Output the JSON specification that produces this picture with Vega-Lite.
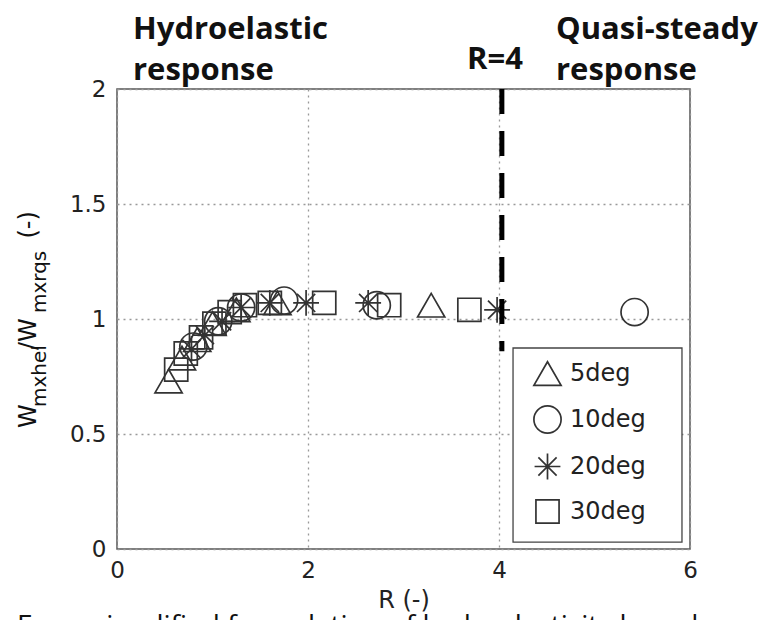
{
  "$schema": "https://vega.github.io/schema/vega-lite/v6.json",
  "width": 573,
  "height": 460,
  "autosize": {"type": "none"},
  "padding": {"left": 117, "top": 89, "right": 80, "bottom": 71},
  "background": "white",
  "config": {
    "view": {"stroke": "#555", "strokeWidth": 1.5},
    "axis": {
      "labelFont": "DejaVu Sans",
      "labelFontSize": 23,
      "labelColor": "#222",
      "titleFont": "DejaVu Sans",
      "titleFontSize": 24,
      "titleFontWeight": "normal",
      "titleColor": "#222",
      "domain": false,
      "ticks": false,
      "grid": true,
      "gridColor": "#999",
      "gridDash": [2, 4],
      "gridWidth": 1.3,
      "labelFlush": false,
      "labelOverlap": false
    },
    "text": {"color": "#111"}
  },
  "layer": [
    {
      "data": {
        "values": [
          {"R": 0.54, "ratio": 0.73, "angle": "5deg"},
          {"R": 0.68, "ratio": 0.83, "angle": "5deg"},
          {"R": 0.84, "ratio": 0.91, "angle": "5deg"},
          {"R": 1.0, "ratio": 0.98, "angle": "5deg"},
          {"R": 1.25, "ratio": 1.04, "angle": "5deg"},
          {"R": 1.68, "ratio": 1.07, "angle": "5deg"},
          {"R": 3.29, "ratio": 1.06, "angle": "5deg"},
          {"R": 0.8, "ratio": 0.88, "angle": "10deg"},
          {"R": 1.06, "ratio": 0.99, "angle": "10deg"},
          {"R": 1.3, "ratio": 1.05, "angle": "10deg"},
          {"R": 1.75, "ratio": 1.08, "angle": "10deg"},
          {"R": 2.72, "ratio": 1.06, "angle": "10deg"},
          {"R": 5.42, "ratio": 1.03, "angle": "10deg"},
          {"R": 0.78, "ratio": 0.87, "angle": "20deg"},
          {"R": 0.92, "ratio": 0.93, "angle": "20deg"},
          {"R": 1.1, "ratio": 0.99, "angle": "20deg"},
          {"R": 1.3, "ratio": 1.05, "angle": "20deg"},
          {"R": 1.6, "ratio": 1.07, "angle": "20deg"},
          {"R": 1.98, "ratio": 1.07, "angle": "20deg"},
          {"R": 2.63, "ratio": 1.07, "angle": "20deg"},
          {"R": 3.98, "ratio": 1.04, "angle": "20deg"},
          {"R": 0.62, "ratio": 0.78, "angle": "30deg"},
          {"R": 0.72, "ratio": 0.85, "angle": "30deg"},
          {"R": 0.88, "ratio": 0.92, "angle": "30deg"},
          {"R": 1.02, "ratio": 0.98, "angle": "30deg"},
          {"R": 1.18, "ratio": 1.03, "angle": "30deg"},
          {"R": 1.34, "ratio": 1.06, "angle": "30deg"},
          {"R": 1.6, "ratio": 1.07, "angle": "30deg"},
          {"R": 2.17, "ratio": 1.07, "angle": "30deg"},
          {"R": 2.85, "ratio": 1.06, "angle": "30deg"},
          {"R": 3.69, "ratio": 1.04, "angle": "30deg"}
        ]
      },
      "mark": {"type": "point", "filled": false, "strokeWidth": 1.7, "color": "#333", "size": 740, "opacity": 1},
      "encoding": {
        "x": {
          "field": "R", "type": "quantitative",
          "scale": {"domain": [0, 6], "nice": false, "zero": false},
          "axis": {"values": [0, 2, 4, 6], "format": "~g", "title": "R (-)", "labelPadding": 10, "titlePadding": 6}
        },
        "y": {
          "field": "ratio", "type": "quantitative",
          "scale": {"domain": [0, 2], "nice": false, "zero": false},
          "axis": {"values": [0, 0.5, 1, 1.5, 2], "format": "~g", "title": null, "labelPadding": 11}
        },
        "shape": {
          "field": "angle", "type": "nominal",
          "scale": {
            "domain": ["5deg", "10deg", "20deg", "30deg"],
            "range": ["triangle-up", "circle", "M-0.95,0L0.95,0M0,-0.95L0,0.95M-0.67,-0.67L0.67,0.67M-0.67,0.67L0.67,-0.67", "M-0.85,-0.85L0.85,-0.85L0.85,0.85L-0.85,0.85Z"]
          },
          "legend": {
            "title": null,
            "orient": "none",
            "legendX": 416,
            "legendY": 270,
            "padding": 0,
            "rowPadding": 13,
            "symbolSize": 740,
            "symbolStrokeWidth": 1.7,
            "symbolStrokeColor": "#333",
            "symbolFillColor": "transparent",
            "symbolOffset": 0,
            "labelOffset": 8,
            "labelFont": "DejaVu Sans",
            "labelFontSize": 24,
            "labelColor": "#222"
          }
        }
      }
    },
    {
      "data": {"values": [{}]},
      "mark": {"type": "rect", "fill": "white", "stroke": "#444", "strokeWidth": 1.3},
      "encoding": {"x": {"datum": 4.147}, "x2": {"datum": 5.916}, "y": {"datum": 0.874}, "y2": {"datum": 0.03}}
    },
    {
      "data": {"values": [{}]},
      "mark": {"type": "rule", "color": "black", "strokeWidth": 5, "strokeDash": [25, 17]},
      "encoding": {"x": {"datum": 4.03}, "y": {"datum": 2}, "y2": {"datum": 0.86}}
    },
    {
      "data": {"values": [{}]},
      "mark": {"type": "text", "text": "Hydroelastic", "font": "Open Sans", "fontWeight": "bold", "fontSize": 31, "align": "left", "baseline": "alphabetic"},
      "encoding": {"x": {"datum": 0.168}, "y": {"datum": 2.218}}
    },
    {
      "data": {"values": [{}]},
      "mark": {"type": "text", "text": "response", "font": "Open Sans", "fontWeight": "bold", "fontSize": 31, "align": "left", "baseline": "alphabetic"},
      "encoding": {"x": {"datum": 0.168}, "y": {"datum": 2.04}}
    },
    {
      "data": {"values": [{}]},
      "mark": {"type": "text", "text": "R=4", "font": "Open Sans", "fontWeight": "bold", "fontSize": 31, "align": "left", "baseline": "alphabetic"},
      "encoding": {"x": {"datum": 3.665}, "y": {"datum": 2.085}}
    },
    {
      "data": {"values": [{}]},
      "mark": {"type": "text", "text": "Quasi-steady", "font": "Open Sans", "fontWeight": "bold", "fontSize": 31, "align": "left", "baseline": "alphabetic"},
      "encoding": {"x": {"datum": 4.597}, "y": {"datum": 2.218}}
    },
    {
      "data": {"values": [{}]},
      "mark": {"type": "text", "text": "response", "font": "Open Sans", "fontWeight": "bold", "fontSize": 31, "align": "left", "baseline": "alphabetic"},
      "encoding": {"x": {"datum": 4.597}, "y": {"datum": 2.04}}
    },
    {
      "data": {"values": [{}]},
      "mark": {"type": "text", "text": "From simplified formulation of hydroelasticity based on", "font": "Open Sans", "fontSize": 28, "align": "left", "baseline": "top"},
      "encoding": {"x": {"datum": -1.047}, "y": {"datum": -0.278}}
    },
    {
      "data": {"values": [{}]},
      "mark": {"type": "text", "text": "W", "font": "DejaVu Sans", "fontSize": 24, "angle": 270, "align": "left", "baseline": "alphabetic"},
      "encoding": {"x": {"datum": -0.85}, "y": {"datum": 0.526}}
    },
    {
      "data": {"values": [{}]},
      "mark": {"type": "text", "text": "mxhel", "font": "DejaVu Sans", "fontSize": 20, "angle": 270, "align": "left", "baseline": "alphabetic"},
      "encoding": {"x": {"datum": -0.74}, "y": {"datum": 0.617}}
    },
    {
      "data": {"values": [{}]},
      "mark": {"type": "text", "text": "/W", "font": "DejaVu Sans", "fontSize": 24, "angle": 270, "align": "left", "baseline": "alphabetic"},
      "encoding": {"x": {"datum": -0.85}, "y": {"datum": 0.865}}
    },
    {
      "data": {"values": [{}]},
      "mark": {"type": "text", "text": "mxrqs", "font": "DejaVu Sans", "fontSize": 20, "angle": 270, "align": "left", "baseline": "alphabetic"},
      "encoding": {"x": {"datum": -0.74}, "y": {"datum": 1.026}}
    },
    {
      "data": {"values": [{}]},
      "mark": {"type": "text", "text": "(-)", "font": "DejaVu Sans", "fontSize": 24, "angle": 270, "align": "left", "baseline": "alphabetic"},
      "encoding": {"x": {"datum": -0.85}, "y": {"datum": 1.35}}
    }
  ]
}
